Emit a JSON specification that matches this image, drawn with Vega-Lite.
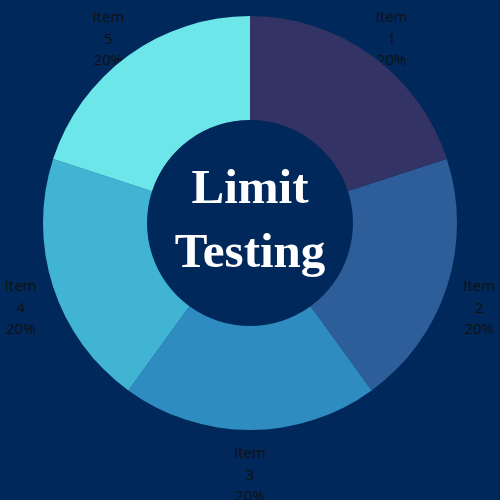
{
  "$schema": "https://vega.github.io/schema/vega-lite/v6.json",
  "width": 500,
  "height": 446,
  "autosize": "none",
  "padding": {"left": 0, "top": 0, "right": 0, "bottom": 54},
  "background": "#00285a",
  "config": {"view": {"stroke": null}},
  "data": {
    "values": [
      {"idx": 1, "category": "Item 1", "value": 20, "label": "Item\n1\n20%"},
      {"idx": 2, "category": "Item 2", "value": 20, "label": "Item\n2\n20%"},
      {"idx": 3, "category": "Item 3", "value": 20, "label": "Item\n3\n20%"},
      {"idx": 4, "category": "Item 4", "value": 20, "label": "Item\n4\n20%"},
      {"idx": 5, "category": "Item 5", "value": 20, "label": "Item\n5\n20%"}
    ]
  },
  "layer": [
    {
      "mark": {
        "type": "text",
        "radius": 241,
        "dy": -11,
        "font": "Open Sans",
        "fontSize": 15,
        "lineHeight": 21.5,
        "lineBreak": "\n",
        "color": "#111111",
        "align": "center",
        "baseline": "middle"
      },
      "encoding": {
        "theta": {"field": "value", "type": "quantitative", "stack": true},
        "order": {"field": "idx", "type": "quantitative"},
        "text": {"field": "label", "type": "nominal"}
      }
    },
    {
      "mark": {"type": "arc", "radius": 207, "radius2": 103, "stroke": null},
      "encoding": {
        "theta": {"field": "value", "type": "quantitative", "stack": true},
        "order": {"field": "idx", "type": "quantitative"},
        "color": {
          "field": "category",
          "type": "nominal",
          "scale": {
            "domain": ["Item 1", "Item 2", "Item 3", "Item 4", "Item 5"],
            "range": ["#333366", "#2e5e9a", "#2f8cc0", "#41b4d4", "#6ce6e8"]
          },
          "legend": null
        }
      }
    },
    {
      "data": {"values": [{"title": "Limit\nTesting"}]},
      "mark": {
        "type": "text",
        "font": "Liberation Serif",
        "fontWeight": "bold",
        "fontSize": 49,
        "lineHeight": 64,
        "lineBreak": "\n",
        "color": "white",
        "align": "center",
        "baseline": "middle",
        "dy": -35
      },
      "encoding": {
        "text": {"field": "title", "type": "nominal"}
      }
    }
  ]
}
